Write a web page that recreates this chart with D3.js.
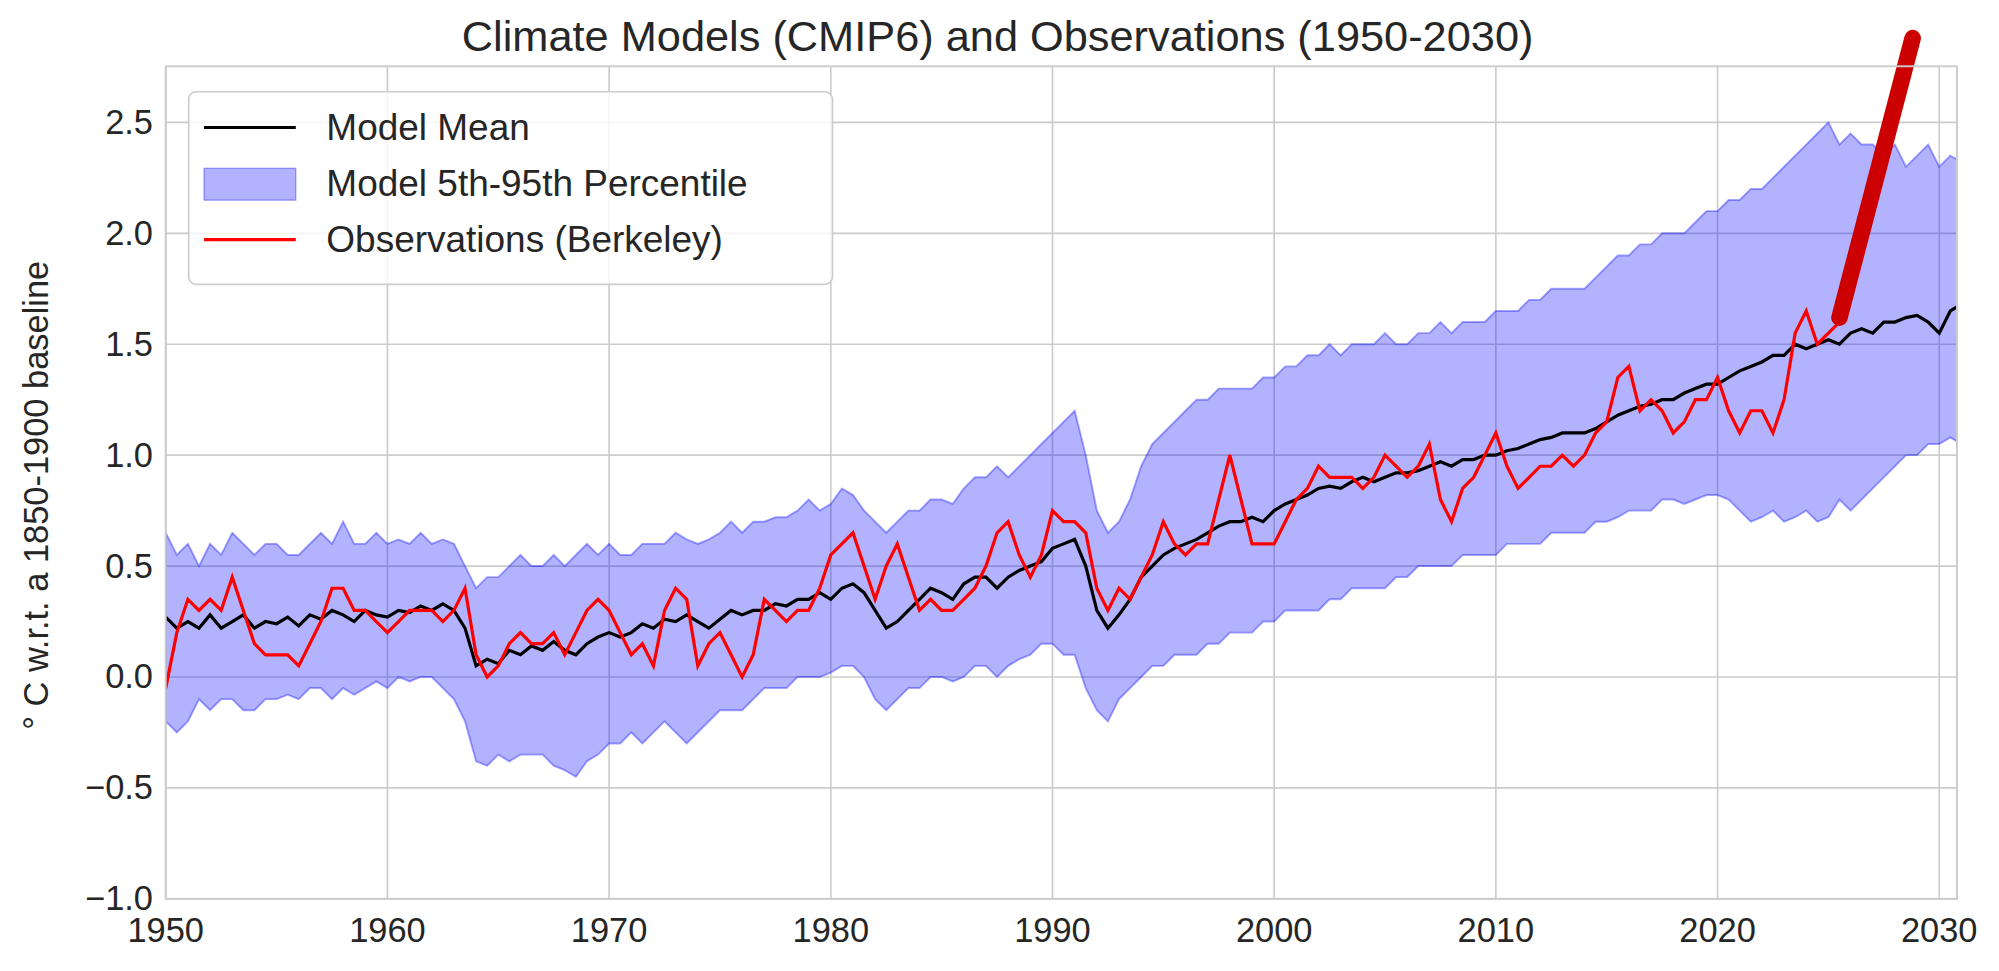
<!DOCTYPE html>
<html><head><meta charset="utf-8">
<script src="https://cdn.jsdelivr.net/npm/d3@7"></script>
<style>body{margin:0;background:#fff;font-family:Arial,"Liberation Sans",sans-serif}</style>
</head><body><svg id="c" width="1999" height="971"></svg>
<script>
const startYear=1950, step=0.5;
const modelMean=[0.27,0.22,0.25,0.22,0.28,0.22,0.25,0.28,0.22,0.25,0.24,0.27,0.23,0.28,0.26,0.3,0.28,0.25,0.3,0.28,0.27,0.3,0.29,0.32,0.3,0.33,0.3,0.22,0.05,0.08,0.06,0.12,0.1,0.14,0.12,0.16,0.12,0.1,0.15,0.18,0.2,0.18,0.2,0.24,0.22,0.26,0.25,0.28,0.25,0.22,0.26,0.3,0.28,0.3,0.3,0.33,0.32,0.35,0.35,0.38,0.35,0.4,0.42,0.38,0.3,0.22,0.25,0.3,0.35,0.4,0.38,0.35,0.42,0.45,0.45,0.4,0.45,0.48,0.5,0.52,0.58,0.6,0.62,0.5,0.3,0.22,0.28,0.35,0.45,0.5,0.55,0.58,0.6,0.62,0.65,0.68,0.7,0.7,0.72,0.7,0.75,0.78,0.8,0.82,0.85,0.86,0.85,0.88,0.9,0.88,0.9,0.92,0.92,0.93,0.95,0.97,0.95,0.98,0.98,1.0,1.0,1.02,1.03,1.05,1.07,1.08,1.1,1.1,1.1,1.12,1.15,1.18,1.2,1.22,1.23,1.25,1.25,1.28,1.3,1.32,1.32,1.35,1.38,1.4,1.42,1.45,1.45,1.5,1.48,1.5,1.52,1.5,1.55,1.57,1.55,1.6,1.6,1.62,1.63,1.6,1.55,1.65,1.68];
const bandUpper=[0.65,0.55,0.6,0.5,0.6,0.55,0.65,0.6,0.55,0.6,0.6,0.55,0.55,0.6,0.65,0.6,0.7,0.6,0.6,0.65,0.6,0.62,0.6,0.65,0.6,0.62,0.6,0.5,0.4,0.45,0.45,0.5,0.55,0.5,0.5,0.55,0.5,0.55,0.6,0.55,0.6,0.55,0.55,0.6,0.6,0.6,0.65,0.62,0.6,0.62,0.65,0.7,0.65,0.7,0.7,0.72,0.72,0.75,0.8,0.75,0.78,0.85,0.82,0.75,0.7,0.65,0.7,0.75,0.75,0.8,0.8,0.78,0.85,0.9,0.9,0.95,0.9,0.95,1.0,1.05,1.1,1.15,1.2,1.0,0.75,0.65,0.7,0.8,0.95,1.05,1.1,1.15,1.2,1.25,1.25,1.3,1.3,1.3,1.3,1.35,1.35,1.4,1.4,1.45,1.45,1.5,1.45,1.5,1.5,1.5,1.55,1.5,1.5,1.55,1.55,1.6,1.55,1.6,1.6,1.6,1.65,1.65,1.65,1.7,1.7,1.75,1.75,1.75,1.75,1.8,1.85,1.9,1.9,1.95,1.95,2.0,2.0,2.0,2.05,2.1,2.1,2.15,2.15,2.2,2.2,2.25,2.3,2.35,2.4,2.45,2.5,2.4,2.45,2.4,2.4,2.35,2.4,2.3,2.35,2.4,2.3,2.35,2.32];
const bandLower=[-0.2,-0.25,-0.2,-0.1,-0.15,-0.1,-0.1,-0.15,-0.15,-0.1,-0.1,-0.08,-0.1,-0.05,-0.05,-0.1,-0.05,-0.08,-0.05,-0.02,-0.05,0.0,-0.02,0.0,0.0,-0.05,-0.1,-0.2,-0.38,-0.4,-0.35,-0.38,-0.35,-0.35,-0.35,-0.4,-0.42,-0.45,-0.38,-0.35,-0.3,-0.3,-0.25,-0.3,-0.25,-0.2,-0.25,-0.3,-0.25,-0.2,-0.15,-0.15,-0.15,-0.1,-0.05,-0.05,-0.05,0.0,0.0,0.0,0.02,0.05,0.05,0.0,-0.1,-0.15,-0.1,-0.05,-0.05,0.0,0.0,-0.02,0.0,0.05,0.05,0.0,0.05,0.08,0.1,0.15,0.15,0.1,0.1,-0.05,-0.15,-0.2,-0.1,-0.05,0.0,0.05,0.05,0.1,0.1,0.1,0.15,0.15,0.2,0.2,0.2,0.25,0.25,0.3,0.3,0.3,0.3,0.35,0.35,0.4,0.4,0.4,0.4,0.45,0.45,0.5,0.5,0.5,0.5,0.55,0.55,0.55,0.55,0.6,0.6,0.6,0.6,0.65,0.65,0.65,0.65,0.7,0.7,0.72,0.75,0.75,0.75,0.8,0.8,0.78,0.8,0.82,0.82,0.8,0.75,0.7,0.72,0.75,0.7,0.72,0.75,0.7,0.72,0.8,0.75,0.8,0.85,0.9,0.95,1.0,1.0,1.05,1.05,1.08,1.05];
const observations=[-0.05,0.2,0.35,0.3,0.35,0.3,0.45,0.3,0.15,0.1,0.1,0.1,0.05,0.15,0.25,0.4,0.4,0.3,0.3,0.25,0.2,0.25,0.3,0.3,0.3,0.25,0.3,0.4,0.1,0.0,0.05,0.15,0.2,0.15,0.15,0.2,0.1,0.2,0.3,0.35,0.3,0.2,0.1,0.15,0.05,0.3,0.4,0.35,0.05,0.15,0.2,0.1,0.0,0.1,0.35,0.3,0.25,0.3,0.3,0.4,0.55,0.6,0.65,0.5,0.35,0.5,0.6,0.45,0.3,0.35,0.3,0.3,0.35,0.4,0.5,0.65,0.7,0.55,0.45,0.55,0.75,0.7,0.7,0.65,0.4,0.3,0.4,0.35,0.45,0.55,0.7,0.6,0.55,0.6,0.6,0.8,1.0,0.8,0.6,0.6,0.6,0.7,0.8,0.85,0.95,0.9,0.9,0.9,0.85,0.9,1.0,0.95,0.9,0.95,1.05,0.8,0.7,0.85,0.9,1.0,1.1,0.95,0.85,0.9,0.95,0.95,1.0,0.95,1.0,1.1,1.15,1.35,1.4,1.2,1.25,1.2,1.1,1.15,1.25,1.25,1.35,1.2,1.1,1.2,1.2,1.1,1.25,1.55,1.65,1.5,1.55,1.6];
const projection=[[2025.5,1.62],[2028.8,2.88]];
const xTicks=[1950,1960,1970,1980,1990,2000,2010,2020,2030];
const yTicks=[-1.0,-0.5,0.0,0.5,1.0,1.5,2.0,2.5];

const svg0=d3.select("#c");
const svg=svg0.append("g").attr("transform","scale(1.2749)");
const L=130,R=1535,T=52,B=705;
const x=d3.scaleLinear().domain([1950,2030.8]).range([L,R]);
const y=d3.scaleLinear().domain([-1,2.75]).range([B,B-(3.75)*174]);
const yr=i=>startYear+i*step;
const g=svg.append("g");
g.append("rect").attr("x",L).attr("y",T).attr("width",R-L).attr("height",B-T).attr("fill","#fff");
xTicks.forEach(t=>g.append("line").attr("x1",x(t)).attr("x2",x(t)).attr("y1",T).attr("y2",B).attr("stroke","#cccccc").attr("stroke-width",1.3));
yTicks.forEach(t=>g.append("line").attr("x1",L).attr("x2",R).attr("y1",y(t)).attr("y2",y(t)).attr("stroke","#cccccc").attr("stroke-width",1.3));
svg0.append("clipPath").attr("id","cp").append("rect").attr("x",L).attr("y",T).attr("width",R-L).attr("height",B-T);
const pg=svg.append("g").attr("clip-path","url(#cp)");
const area=d3.area().x((d,i)=>x(yr(i))).y0((d,i)=>y(bandLower[i])).y1(d=>y(d));
pg.append("path").datum(bandUpper).attr("d",area).attr("fill","rgba(0,0,255,0.3)").attr("stroke","rgba(0,0,255,0.35)").attr("stroke-width",1.5);
const line=d3.line().x((d,i)=>x(yr(i))).y(d=>y(d));
pg.append("path").datum(modelMean).attr("d",line).attr("fill","none").attr("stroke","#000").attr("stroke-width",2.5);
pg.append("path").datum(observations).attr("d",line).attr("fill","none").attr("stroke","#ff0000").attr("stroke-width",2.5);
svg.append("path").datum(projection).attr("d",d3.line().x(d=>x(d[0])).y(d=>y(d[1]))).attr("fill","none").attr("stroke","#cc0000").attr("stroke-width",13).attr("stroke-linecap","round");
svg.append("rect").attr("x",L).attr("y",T).attr("width",R-L).attr("height",B-T).attr("fill","none").attr("stroke","#cccccc").attr("stroke-width",1.5);
xTicks.forEach(t=>svg.append("text").attr("x",x(t)).attr("y",B+34).attr("text-anchor","middle").attr("fill","#262626").attr("font-size",27).text(t));
yTicks.forEach(t=>svg.append("text").attr("x",L-10).attr("y",y(t)+9).attr("text-anchor","end").attr("fill","#262626").attr("font-size",27).text(d3.format(".1f")(t).replace("-","−")));
svg.append("text").attr("transform",`translate(38,${(T+B)/2+10}) rotate(-90)`).attr("text-anchor","middle").attr("fill","#262626").attr("font-size",27).text("° C w.r.t. a 1850-1900 baseline");
svg.append("text").attr("x",(L+R)/2-50).attr("y",40).attr("text-anchor","middle").attr("fill","#262626").attr("font-size",34).text("Climate Models (CMIP6) and Observations (1950-2030)");
const lg=svg.append("g");
lg.append("rect").attr("x",148).attr("y",72).attr("width",505).attr("height",151).attr("rx",6).attr("fill","rgba(255,255,255,0.8)").attr("stroke","#cccccc").attr("stroke-width",1.3);
const items=[["Model Mean","line","#000"],["Model 5th-95th Percentile","patch"],["Observations (Berkeley)","line","#ff0000"]];
items.forEach((it,i)=>{const cy=100+i*44;
 if(it[1]=="line") lg.append("line").attr("x1",160).attr("x2",232).attr("y1",cy).attr("y2",cy).attr("stroke",it[2]).attr("stroke-width",2.5);
 else lg.append("rect").attr("x",160).attr("y",cy-12).attr("width",72).attr("height",25).attr("fill","rgba(0,0,255,0.3)").attr("stroke","rgba(0,0,255,0.35)");
 lg.append("text").attr("x",256).attr("y",cy+10).attr("fill","#262626").attr("font-size",29).text(it[0]);});
</script></body></html>
